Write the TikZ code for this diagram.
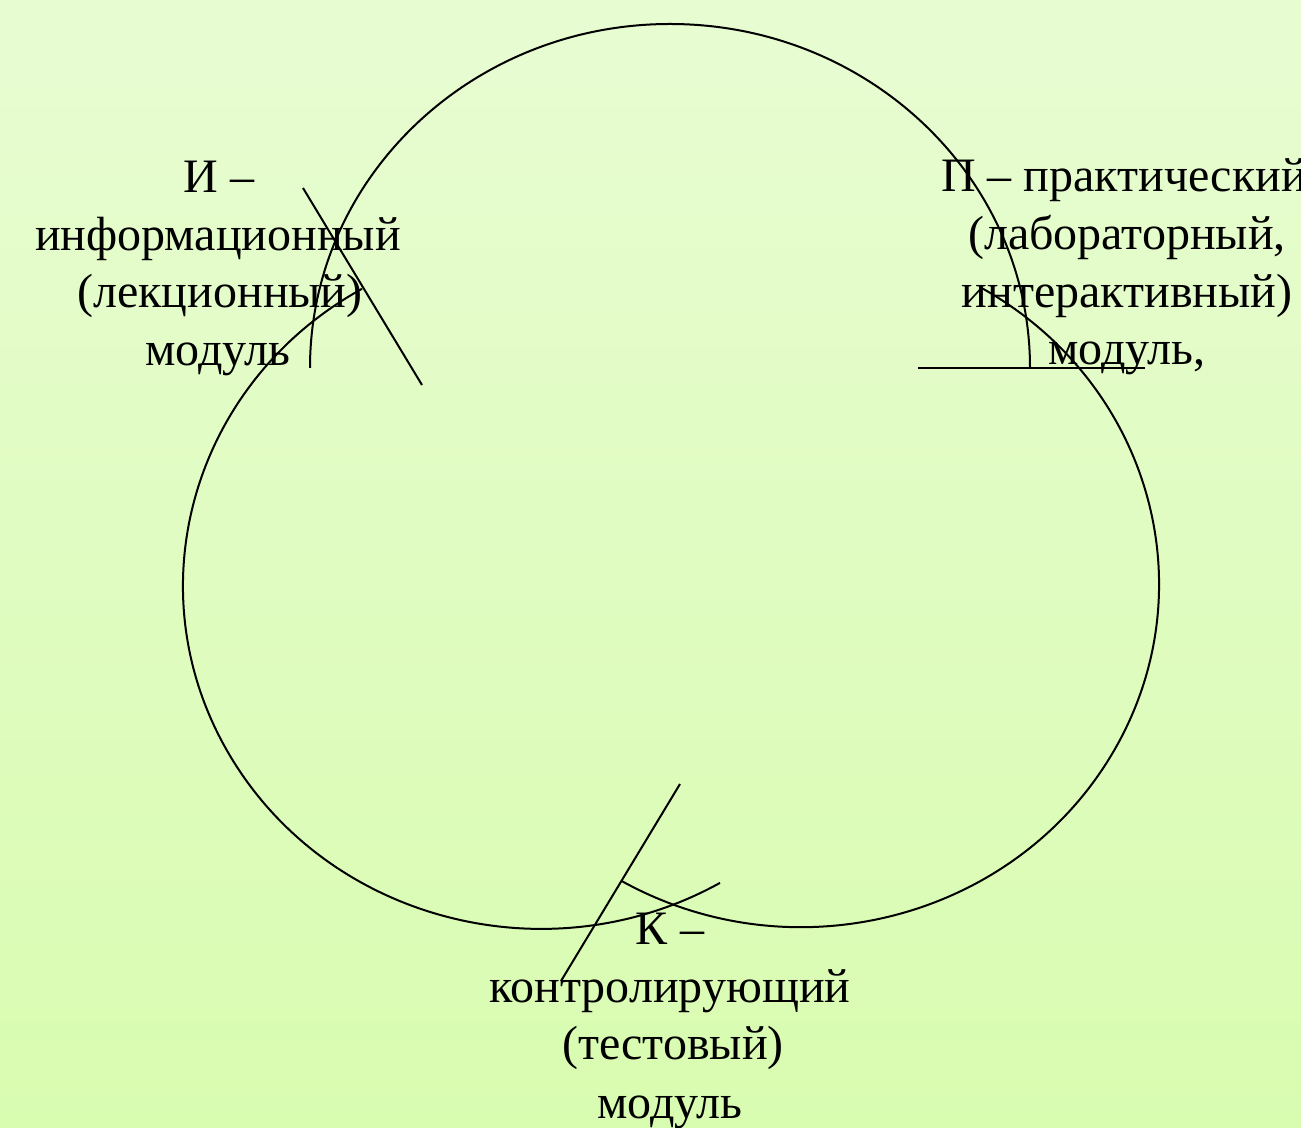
\documentclass[tikz,border=0pt]{standalone}
\usepackage{fontspec}
\setmainfont{Liberation Serif}
\definecolor{bgtop}{RGB}{232,252,210}
\definecolor{bgbot}{RGB}{216,252,176}
\begin{document}
\begin{tikzpicture}[x=1pt,y=1pt,
  arcline/.style={line width=2pt, black},
  lbl/.style={font=\fontsize{48}{57}\selectfont, inner sep=0pt, anchor=base}]
\shade[top color=bgtop, bottom color=bgbot] (0,0) rectangle (1301,1127);
\useasboundingbox (0,0) rectangle (1301,1127);
% arc start points
\coordinate (s1) at (310,759);
\coordinate (s2) at (980,839.9);
\coordinate (s3) at (720,244.1);
\draw[arcline] (s1) arc[start angle=180, end angle=0, x radius=360, y radius=344];
\draw[arcline] (s2) arc[start angle=60, end angle=-120, x radius=358, y radius=343];
\draw[arcline] (s3) arc[start angle=-60, end angle=-240, x radius=358, y radius=343];
% radial bars at the arc ends
\coordinate (a1) at (303,939);
\coordinate (a2) at (422,742);
\coordinate (b1) at (918,759);
\coordinate (b2) at (1145,759);
\coordinate (c1) at (680,343);
\coordinate (c2) at (561,146);
\draw[arcline] (a1) -- (a2);
\draw[arcline] (b1) -- (b2);
\draw[arcline] (c1) -- (c2);
% labels
\node[lbl] (i1) at (219,934) {И –};
\node[lbl] (i2) at (218,876.5) {информационный};
\node[lbl] (i3) at (220,819) {(лекционный)};
\node[lbl] (i4) at (218,761.5) {модуль};
\node[lbl] (p1) at (1124,935) {П – практический};
\node[lbl] (p2) at (1127,877) {(лабораторный,};
\node[lbl] (p3) at (1127,819.5) {интерактивный)};
\node[lbl] (p4) at (1127,762) {модуль,};
\node[lbl] (k1) at (670,182) {К –};
\node[lbl] (k2) at (670,124) {контролирующий};
\node[lbl] (k3) at (673,67) {(тестовый)};
\node[lbl] (k4) at (670,9) {модуль};
\end{tikzpicture}
\end{document}
